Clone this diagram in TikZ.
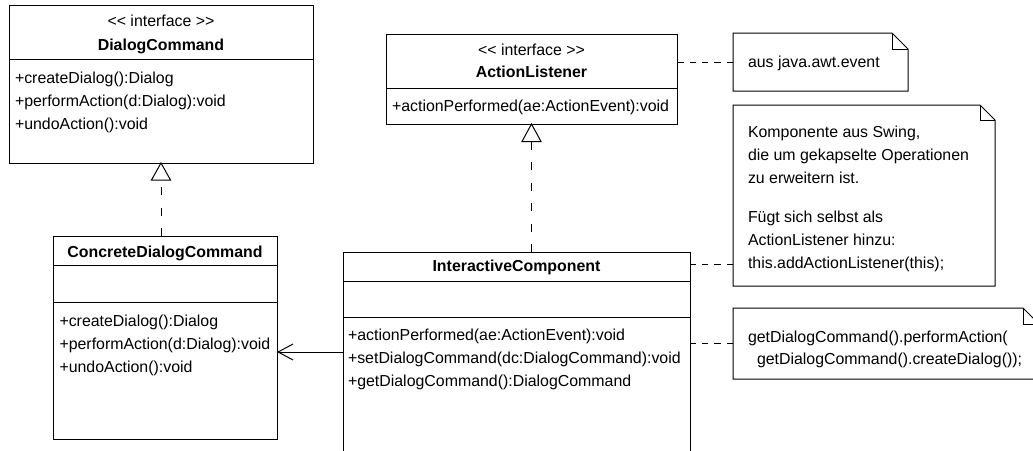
\documentclass[tikz,border=0pt]{standalone}
\usepackage{fontspec}
\setmainfont{Liberation Sans}
\usetikzlibrary{arrows.meta}

\begin{document}
\begin{tikzpicture}[x=1pt, y=-1pt,
  every node/.style={inner sep=0pt, outer sep=0pt},
  umlfont/.style={font=\fontsize{15.9pt}{19pt}\selectfont},
  boxframe/.style={draw, line width=1pt, rectangle},
  member/.style={umlfont, anchor=base west},
  heading/.style={umlfont, anchor=base},
  classname/.style={font=\fontsize{15.9pt}{19pt}\selectfont\bfseries, anchor=base},
  notetext/.style={umlfont, anchor=base west},
  edge/.style={line width=1pt},
  realize/.style={line width=1pt, dash pattern=on 8pt off 12.5pt},
  notelink/.style={line width=1pt, dash pattern=on 6.5pt off 5.8pt},
  hollowtri/.style={line width=1pt, fill=white},
]
\useasboundingbox (0,0) rectangle (1033,450);
\fill[white] (0,0) rectangle (1033,450);
\clip (0,0) rectangle (1033,450);

% ---------- interface DialogCommand ----------
\node[boxframe, minimum width=304pt, minimum height=158pt] (dc) at (161,84) {};
\draw[edge] (dc.west |- 0,59) -- (dc.east |- 0,59);
\node[heading]   (dcst)  at (161,26.5) {<\kern0pt< interface >\kern0pt>};
\node[classname] (dcnm)  at (161,50.5) {DialogCommand};
\node[member]    (dcm1)  at (15,83)  {+createDialog():Dialog};
\node[member]    (dcm2)  at (15,106) {+performAction(d:Dialog):void};
\node[member]    (dcm3)  at (15,129) {+undoAction():void};

% ---------- class ConcreteDialogCommand ----------
\node[boxframe, minimum width=224pt, minimum height=203pt] (cdc) at (165,337.5) {};
\draw[edge] (cdc.west |- 0,265) -- (cdc.east |- 0,265);
\draw[edge] (cdc.west |- 0,302) -- (cdc.east |- 0,302);
\node[classname] (cdcnm) at (165,257.5) {ConcreteDialogCommand};
\node[member]    (cdcm1) at (59.5,326) {+createDialog():Dialog};
\node[member]    (cdcm2) at (59.5,349) {+performAction(d:Dialog):void};
\node[member]    (cdcm3) at (59.5,372) {+undoAction():void};

% ---------- interface ActionListener ----------
\node[boxframe, minimum width=291pt, minimum height=90pt] (al) at (531.5,79) {};
\draw[edge] (al.west |- 0,88) -- (al.east |- 0,88);
\node[heading]   (alst)  at (531.5,55) {<\kern0pt< interface >\kern0pt>};
\node[classname] (alnm)  at (531.5,77.5) {ActionListener};
\node[member]    (alm1)  at (392,111.5) {+actionPerformed(ae:ActionEvent):void};

% ---------- class InteractiveComponent ----------
\node[boxframe, minimum width=347pt, minimum height=210pt] (ic) at (516.5,357) {};
\draw[edge] (ic.west |- 0,281) -- (ic.east |- 0,281);
\draw[edge] (ic.west |- 0,317) -- (ic.east |- 0,317);
\node[classname] (icnm)  at (516.5,271.5) {InteractiveComponent};
\node[member]    (icm1)  at (348,340) {+actionPerformed(ae:ActionEvent):void};
\node[member]    (icm2)  at (348,363) {+setDialogCommand(dc:DialogCommand):void};
\node[member]    (icm3)  at (348,386) {+getDialogCommand():DialogCommand};

% ---------- notes ----------
\node[minimum width=175pt, minimum height=58pt]  (n1) at (820.5,62) {};
\node[minimum width=262pt, minimum height=181pt] (n2) at (864,195.5) {};
\node[minimum width=306pt, minimum height=71pt]  (n3) at (886,343.5) {};
\foreach \n/\f in {n1/16pt, n2/15pt, n3/16pt} {
  \draw[edge, fill=white] (\n.north west) -- ([xshift=-\f]\n.north east)
    -- ([yshift=-\f]\n.north east) -- (\n.south east) -- (\n.south west) -- cycle;
  \draw[edge] ([xshift=-\f]\n.north east) -- ([xshift=-\f, yshift=-\f]\n.north east)
    -- ([yshift=-\f]\n.north east);
}
\node[notetext] (n1t)  at (748,67) {aus java.awt.event};
\node[notetext] (n2t1) at (748,137.5) {Komponente aus Swing,};
\node[notetext] (n2t2) at (748,160.5) {die um gekapselte Operationen};
\node[notetext] (n2t3) at (748,183.5) {zu erweitern ist.};
\node[notetext] (n2t4) at (748,222.5) {Fügt sich selbst als};
\node[notetext] (n2t5) at (748,245.5) {ActionListener hinzu:};
\node[notetext] (n2t6) at (748,268.5) {this.addActionListener(this);};
\node[notetext] (n3t1) at (748,342) {getDialogCommand().performAction(};
\node[notetext] (n3t2) at (757,364) {getDialogCommand().createDialog());};

% ---------- realizations ----------
\coordinate (dctri) at ([yshift=-17pt]dc.south);
\draw[realize] (dc.south |- cdc.north) -- (dctri);
\draw[hollowtri] (dc.south) -- ([xshift=-9.5pt]dctri) -- ([xshift=9.5pt]dctri) -- cycle;

\coordinate (altri) at ([yshift=-17.5pt]al.south);
\draw[realize] (al.south |- ic.north) -- (altri);
\draw[hollowtri] (al.south) -- ([xshift=-9.5pt]altri) -- ([xshift=9.5pt]altri) -- cycle;

% ---------- association ----------
\draw[edge, -{Straight Barb[length=15pt, width=16pt]}] (ic.west |- 0,352) -- (cdc.east |- 0,352);

% ---------- note anchors ----------
\draw[notelink] (n1.west) -- (n1.west -| al.east);
\draw[notelink] (n2.west |- 0,264) -- (ic.east |- 0,264);
\draw[notelink] (n3.west) -- (n3.west -| ic.east);
\end{tikzpicture}
\end{document}
